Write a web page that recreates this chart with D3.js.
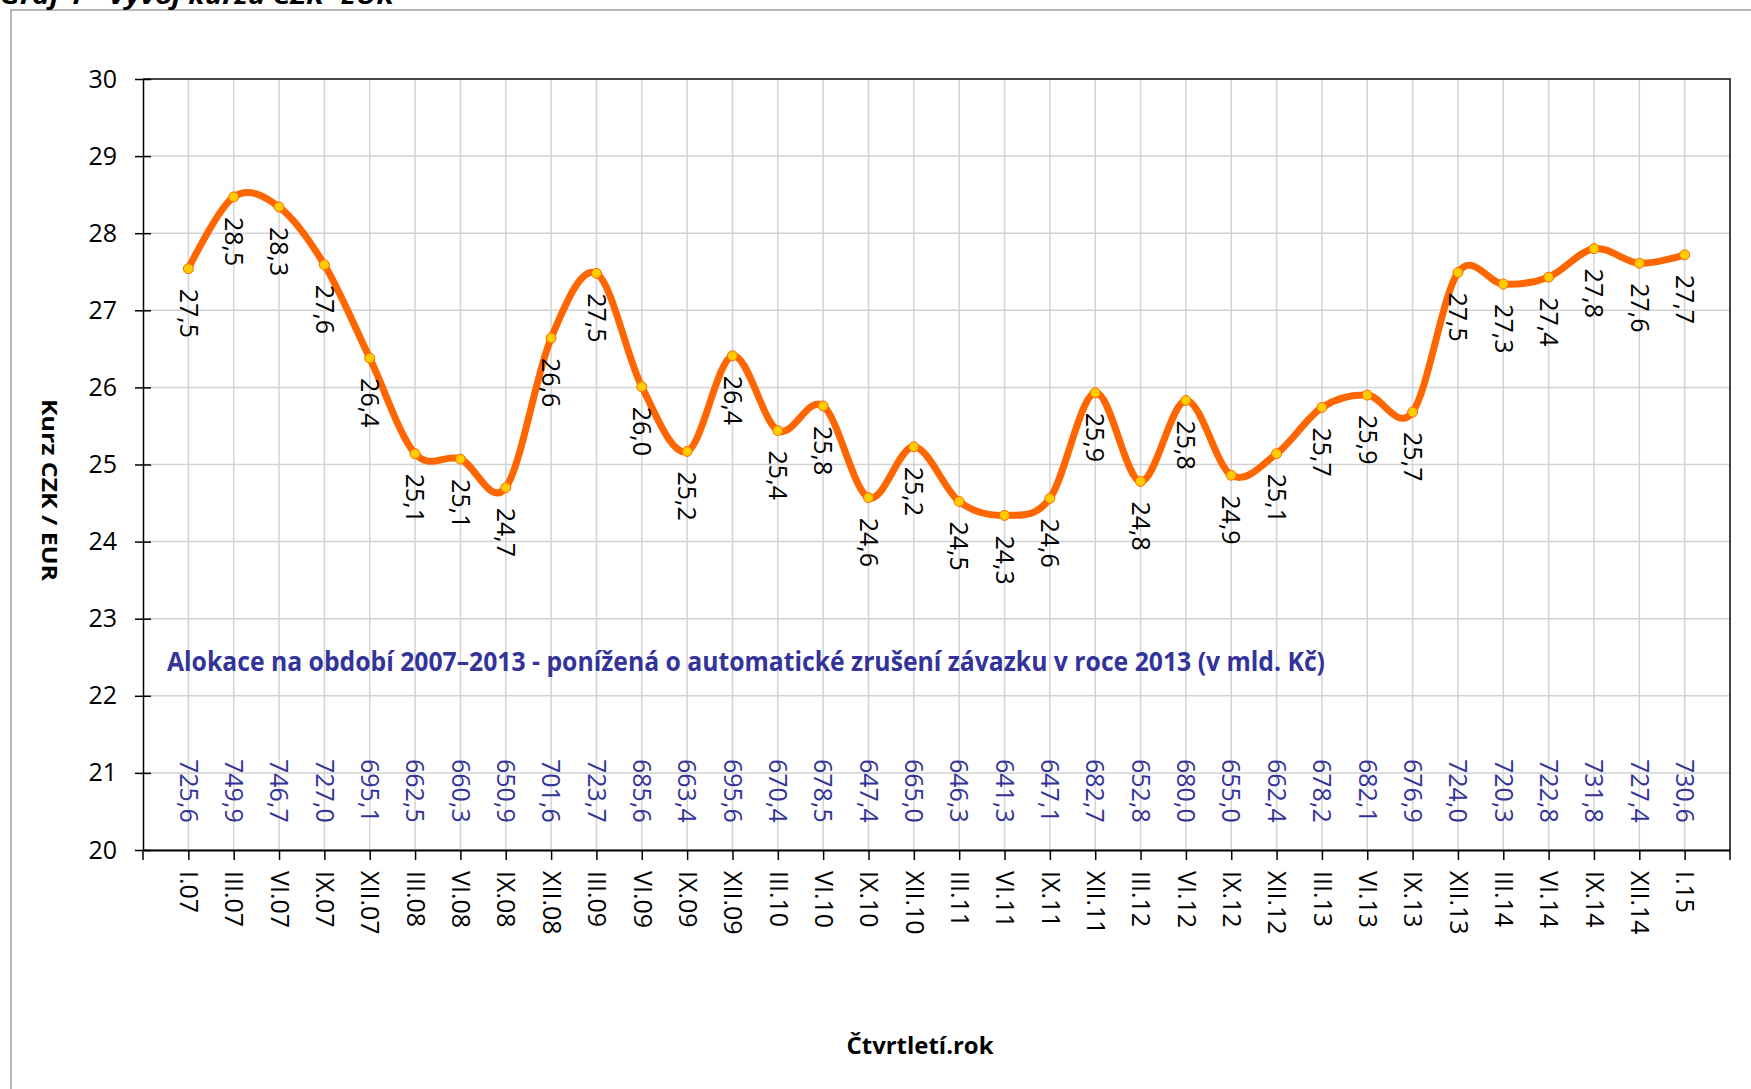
<!DOCTYPE html>
<html>
<head>
<meta charset="utf-8">
<script src="https://cdn.jsdelivr.net/npm/d3@7"></script>
<style>
  body { margin: 0; background: #fff; overflow: hidden; }
  text { font-family: "Open Sans", sans-serif; }
</style>
</head>
<body>
<svg id="chart" width="1751" height="1089"></svg>
<script>
// data
const quarters = ["I.07", "III.07", "VI.07", "IX.07", "XII.07", "III.08", "VI.08", "IX.08", "XII.08",
  "III.09", "VI.09", "IX.09", "XII.09", "III.10", "VI.10", "IX.10", "XII.10", "III.11", "VI.11",
  "IX.11", "XII.11", "III.12", "VI.12", "IX.12", "XII.12", "III.13", "VI.13", "IX.13", "XII.13",
  "III.14", "VI.14", "IX.14", "XII.14", "I.15"];

const rates = [27.54, 28.47, 28.34, 27.59, 26.38, 25.14, 25.07, 24.70, 26.64,
  27.48, 26.01, 25.17, 26.41, 25.44, 25.76, 24.57, 25.23, 24.52, 24.34,
  24.56, 25.93, 24.78, 25.83, 24.86, 25.14, 25.74, 25.90, 25.68, 27.49,
  27.34, 27.43, 27.80, 27.61, 27.72];

const allocation = [725.6, 749.9, 746.7, 727.0, 695.1, 662.5, 660.3, 650.9, 701.6,
  723.7, 685.6, 663.4, 695.6, 670.4, 678.5, 647.4, 665.0, 646.3, 641.3,
  647.1, 682.7, 652.8, 680.0, 655.0, 662.4, 678.2, 682.1, 676.9, 724.0,
  720.3, 722.8, 731.8, 727.4, 730.6];

const yTicks = [20, 21, 22, 23, 24, 25, 26, 27, 28, 29, 30];

const chartTitle = "Graf 1 - Vývoj kurzu CZK -EUR";
const note = "Alokace na období 2007–2013 - ponížená o automatické zrušení závazku v roce 2013 (v mld. Kč)";
const yTitle = "Kurz CZK / EUR";
const xTitle = "Čtvrtletí.rok";

const W = 1751, H = 1089;
const margin = { top: 79, right: 21, bottom: 239, left: 143 };
const fmt = v => d3.format(".1f")(v).replace(".", ",");

const svg = d3.select("#chart");

// outer frame of the chart object
svg.append("rect")
  .attr("x", 11).attr("y", 10)
  .attr("width", W).attr("height", H)
  .attr("fill", "none").attr("stroke", "#8c8c8c").attr("stroke-width", 1.2);

// title, cut off at the top edge like in the source
svg.append("text")
  .attr("x", 0).attr("y", 4)
  .attr("font-size", 24).attr("font-weight", "bold").attr("font-style", "italic")
  .attr("textLength", 394).attr("lengthAdjust", "spacingAndGlyphs")
  .text(chartTitle);

let x = d3.scalePoint().domain(quarters).range([margin.left, W - margin.right]).padding(1);
let y = d3.scaleLinear().domain([20, 30]).range([H - margin.bottom, margin.top]);

let data = quarters.map((q, i) => ({ q: q, v: rates[i], a: allocation[i] }));

// gridlines
svg.append("g").selectAll("line")
  .data(yTicks).enter().append("line")
  .attr("x1", x.range()[0]).attr("x2", x.range()[1])
  .attr("y1", d => y(d)).attr("y2", d => y(d))
  .attr("stroke", "#d3d3d3").attr("stroke-width", 1.5);

svg.append("g").selectAll("line")
  .data(quarters).enter().append("line")
  .attr("x1", d => x(d)).attr("x2", d => x(d))
  .attr("y1", y(20)).attr("y2", y(30))
  .attr("stroke", "#d3d3d3").attr("stroke-width", 1.5);

// plot border (top + right)
svg.append("path")
  .attr("d", "M" + x.range()[0] + "," + y(30) + "H" + x.range()[1] + "V" + y(20))
  .attr("fill", "none").attr("stroke", "#444").attr("stroke-width", 2);

// y axis
let yAxis = svg.append("g")
  .attr("transform", "translate(" + x.range()[0] + ",0)")
  .call(d3.axisLeft(y).tickValues(yTicks).tickSize(8).tickSizeOuter(0).tickPadding(18));
yAxis.select(".domain").attr("stroke", "#000").attr("stroke-width", 1.5);
yAxis.selectAll(".tick line").attr("x1", 8).attr("stroke-width", 1.5);
yAxis.selectAll(".tick text")
  .attr("font-family", "Open Sans, sans-serif").attr("font-size", 25).attr("fill", "#000");

// x axis
let xAxis = svg.append("g")
  .attr("transform", "translate(0," + y(20) + ")")
  .call(d3.axisBottom(x).tickSize(10).tickSizeOuter(0));
xAxis.select(".domain").attr("stroke", "#000").attr("stroke-width", 2);
xAxis.selectAll(".tick line").attr("stroke-width", 1.5);
xAxis.selectAll(".tick text")
  .attr("font-family", "Open Sans, sans-serif").attr("font-size", 25).attr("fill", "#000")
  .attr("transform", "rotate(90)")
  .attr("x", 21).attr("y", 0).attr("dy", "0.35em")
  .style("text-anchor", "start");
xAxis.selectAll(".edge")
  .data(x.range()).enter().append("line")
  .attr("class", "edge")
  .attr("x1", d => d).attr("x2", d => d)
  .attr("y1", 0).attr("y2", 10)
  .attr("stroke", "#000").attr("stroke-width", 1.5);

// allocation note and values
svg.append("text")
  .attr("x", 167).attr("y", 671)
  .attr("font-size", 26).attr("font-weight", "bold").attr("fill", "#333399")
  .attr("textLength", 1158).attr("lengthAdjust", "spacingAndGlyphs")
  .text(note);

svg.append("g").selectAll("text")
  .data(data).enter().append("text")
  .attr("transform", d => "translate(" + x(d.q) + "," + y(21.18) + ") rotate(90)")
  .attr("dy", "0.35em")
  .attr("font-size", 25).attr("fill", "#333399")
  .text(d => fmt(d.a));

// exchange rate line
let line = d3.line()
  .x(d => x(d.q))
  .y(d => y(d.v))
  .curve(d3.curveCardinal.tension(0));

svg.append("path")
  .datum(data)
  .attr("d", line)
  .attr("fill", "none").attr("stroke", "#ff6600")
  .attr("stroke-width", 7).attr("stroke-linecap", "round").attr("stroke-linejoin", "round");

svg.append("g").selectAll("circle")
  .data(data).enter().append("circle")
  .attr("cx", d => x(d.q)).attr("cy", d => y(d.v))
  .attr("r", 5)
  .attr("fill", "#ffcc00").attr("stroke", "#ff6600").attr("stroke-width", 1);

// data labels
svg.append("g").selectAll("text")
  .data(data).enter().append("text")
  .attr("transform", d => "translate(" + x(d.q) + "," + (y(d.v) + 20) + ") rotate(90)")
  .attr("dy", "0.35em")
  .attr("font-size", 25).attr("fill", "#000")
  .text(d => fmt(d.v));

// axis titles
svg.append("text")
  .attr("transform", "translate(50,490) rotate(90)")
  .attr("text-anchor", "middle").attr("dy", "0.35em")
  .attr("font-size", 22).attr("font-weight", "bold")
  .attr("textLength", 182).attr("lengthAdjust", "spacingAndGlyphs")
  .text(yTitle);

svg.append("text")
  .attr("x", 920).attr("y", 1054)
  .attr("text-anchor", "middle")
  .attr("font-size", 24).attr("font-weight", "bold")
  .attr("textLength", 147).attr("lengthAdjust", "spacingAndGlyphs")
  .text(xTitle);
</script>
</body>
</html>
